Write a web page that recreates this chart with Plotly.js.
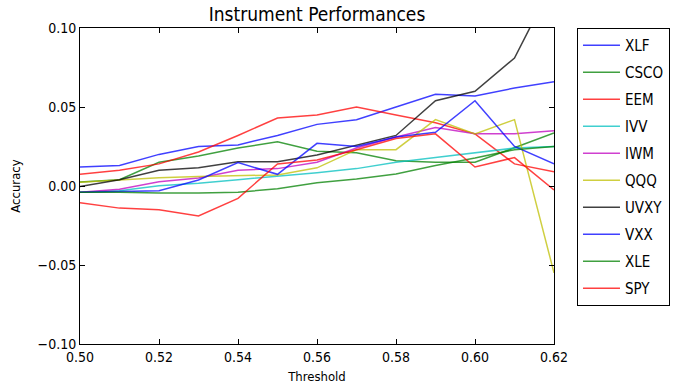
<!DOCTYPE html>
<html>
<head>
<meta charset="utf-8">
<script src="https://cdn.plot.ly/plotly-3.0.1.min.js"></script>
<style>html,body{margin:0;padding:0;background:#fff;}#chart{width:682px;height:385px;}</style>
</head>
<body>
<div id="chart"></div>
<script>
const thresholds = [0.50, 0.51, 0.52, 0.53, 0.54, 0.55, 0.56, 0.57, 0.58, 0.59, 0.60, 0.61, 0.62];
const seriesNames = ["XLF", "CSCO", "EEM", "IVV", "IWM", "QQQ", "UVXY", "VXX", "XLE", "SPY"];
const XLF  = [0.012, 0.013, 0.020, 0.025, 0.026, 0.032, 0.039, 0.042, 0.050, 0.058, 0.057, 0.062, 0.066];
const CSCO = [0.0025, 0.004, 0.015, 0.019, 0.024, 0.028, 0.022, 0.021, 0.016, 0.015, 0.015, 0.024, 0.0335];
const EEM  = [0.0074, 0.010, 0.014, 0.0215, 0.032, 0.043, 0.045, 0.050, 0.045, 0.040, 0.033, 0.014, 0.009];
const IVV  = [-0.004, -0.003, 0.0002, 0.0017, 0.004, 0.006, 0.0084, 0.011, 0.015, 0.018, 0.021, 0.024, 0.025];
const IWM  = [-0.004, -0.002, 0.0027, 0.005, 0.010, 0.011, 0.015, 0.024, 0.031, 0.037, 0.033, 0.033, 0.035];
const QQQ  = [0.0023, 0.0038, 0.0053, 0.006, 0.0063, 0.007, 0.0115, 0.023, 0.023, 0.042, 0.033, 0.042, -0.055];
const UVXY = [-0.0004, 0.004, 0.010, 0.0116, 0.0154, 0.0154, 0.0196, 0.026, 0.032, 0.054, 0.060, 0.081, 0.130];
const VXX  = [-0.004, -0.0035, -0.003, 0.0038, 0.0148, 0.0074, 0.027, 0.025, 0.031, 0.034, 0.054, 0.025, 0.014];
const XLE  = [-0.004, -0.004, -0.0045, -0.0045, -0.004, -0.0017, 0.002, 0.0044, 0.0076, 0.013, 0.0177, 0.023, 0.025];
const SPY  = [-0.0106, -0.014, -0.015, -0.019, -0.0078, 0.0140, 0.0165, 0.023, 0.030, 0.033, 0.012, 0.018, -0.0025];
const seriesValues = [XLF, CSCO, EEM, IVV, IWM, QQQ, UVXY, VXX, XLE, SPY];
const seriesColors = ["rgba(0,0,255,0.75)", "rgba(0,128,0,0.75)", "rgba(255,0,0,0.75)", "rgba(0,191,191,0.75)",
  "rgba(191,0,191,0.75)", "rgba(191,191,0,0.75)", "rgba(0,0,0,0.75)", "rgba(0,0,255,0.75)",
  "rgba(0,128,0,0.75)", "rgba(255,0,0,0.75)"];
const xTicks = [0.50, 0.52, 0.54, 0.56, 0.58, 0.60, 0.62];
const yTicks = [-0.10, -0.05, 0.00, 0.05, 0.10];

const FONT = "DejaVu Sans Condensed, DejaVu Sans, sans-serif";

const traces = seriesNames.map((name, i) => ({
  type: "scatter",
  mode: "lines",
  name: name,
  legendgroup: "g" + i,
  x: thresholds,
  y: seriesValues[i],
  line: {color: seriesColors[i], width: 1.5},
  hoverinfo: "skip"
}));

const layout = {
  width: 682,
  height: 385,
  margin: {l: 80, r: 128, t: 28, b: 41, pad: 0},
  paper_bgcolor: "#ffffff",
  plot_bgcolor: "#ffffff",
  font: {family: FONT, size: 13, color: "#000"},
  title: {
    text: "Instrument Performances",
    font: {family: FONT, size: 19, color: "#000"},
    xref: "paper", x: 0.5, xanchor: "center",
    yref: "container", y: 0.962, yanchor: "middle"
  },
  xaxis: {
    range: [0.50, 0.62],
    tickvals: xTicks,
    tickformat: ".2f",
    ticks: "inside", ticklen: 5, tickcolor: "#000", tickwidth: 1,
    showline: true, linecolor: "#000", linewidth: 1, mirror: "ticks",
    showgrid: false, zeroline: false,
    tickfont: {family: FONT, size: 14},
    title: {text: "Threshold", font: {family: FONT, size: 13}, standoff: 8},
    automargin: false
  },
  yaxis: {
    range: [-0.10, 0.10],
    tickvals: yTicks,
    tickformat: ".2f",
    ticks: "inside", ticklen: 5, tickcolor: "#000", tickwidth: 1,
    showline: true, linecolor: "#000", linewidth: 1, mirror: "ticks",
    showgrid: false, zeroline: false,
    tickfont: {family: FONT, size: 14},
    title: {text: "Accuracy", font: {family: FONT, size: 13}, standoff: 14},
    automargin: false
  },
  showlegend: true,
  legend: {
    x: 1.0485, xanchor: "left", xref: "paper",
    y: 1, yanchor: "top", yref: "paper",
    bordercolor: "#000", borderwidth: 1, bgcolor: "#fff",
    font: {family: FONT, size: 15, color: "#000"},
    tracegroupgap: 4.5,
    itemwidth: 37
  }
};

Plotly.newPlot("chart", traces, layout, {staticPlot: true, displayModeBar: false});
</script>
</body>
</html>
